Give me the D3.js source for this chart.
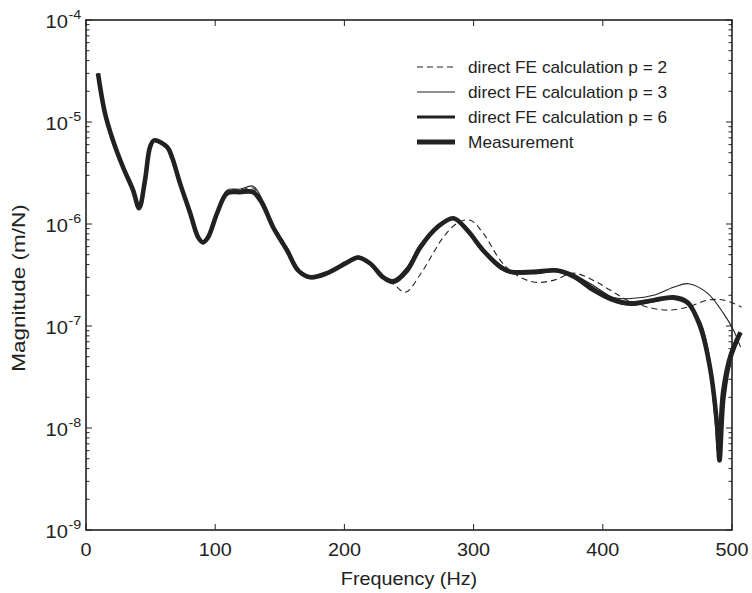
<!DOCTYPE html>
<html>
<head>
<meta charset="utf-8">
<script src="https://cdn.jsdelivr.net/npm/d3@7"></script>
<style>
  body { margin: 0; background: #fff; }
  text { font-family: "Liberation Sans", Arial, sans-serif; fill: #222; }
</style>
</head>
<body>
<svg id="chart" width="752" height="593"></svg>
<script>
// frequency (Hz) / magnitude (m/N)
let measFreq = [9.3,14.7,20.9,28.7,36.4,41.1,45.7,49.6,52.7,62.7,66.6,72.8,80.6,86.8,90.6,94.5,101.5,109.2,119.3,129.4,136.3,144.8,155.7,164.2,173.5,186.7,202.2,210.7,220,230,237.8,248.6,258.7,271.9,284.3,295.1,307.5,320.7,328.4,346.2,364.8,377.2,392.7,405.9,421.4,439.2,454.7,465.5,475.6,483.3,488.8,490.3,493.4,498.8,506.6];
let measMag  = [3.0e-5,1.22e-5,6.6e-6,3.6e-6,2.15e-6,1.43e-6,2.7e-6,5.7e-6,6.6e-6,5.7e-6,4.5e-6,2.5e-6,1.28e-6,7.4e-7,6.6e-7,7.4e-7,1.28e-6,2.0e-6,2.05e-6,2.05e-6,1.6e-6,9.3e-7,5.5e-7,3.5e-7,3.0e-7,3.3e-7,4.2e-7,4.7e-7,4.1e-7,3.0e-7,2.7e-7,3.5e-7,5.9e-7,9.3e-7,1.14e-6,8.7e-7,5.5e-7,3.8e-7,3.4e-7,3.4e-7,3.5e-7,3.1e-7,2.3e-7,1.87e-7,1.67e-7,1.79e-7,1.91e-7,1.71e-7,9.7e-8,3.7e-8,9.5e-9,4.8e-9,2.0e-8,4.9e-8,8.7e-8];

let p6Freq = [9.3,14.7,20.9,28.7,36.4,41.1,45.7,49.6,52.7,62.7,66.6,72.8,80.6,86.8,90.6,94.5,101.5,109.2,119.3,129.4,136.3,144.8,155.7,164.2,173.5,186.7,202.2,210.7,220,230,237.8,248.6,258.7,271.9,284.3,295.1,307.5,320.7,328.4,346.2,364.8,377.2,392.7,405.9,421.4,439.2,454.7,465.5,475.6,482.5,487.5,489.3,492.5,498.5,506];
let p6Mag  = [3.0e-5,1.22e-5,6.6e-6,3.6e-6,2.15e-6,1.45e-6,2.7e-6,5.7e-6,6.6e-6,5.7e-6,4.5e-6,2.5e-6,1.3e-6,7.5e-7,6.7e-7,7.5e-7,1.3e-6,2.05e-6,2.1e-6,2.1e-6,1.65e-6,9.5e-7,5.6e-7,3.55e-7,3.05e-7,3.3e-7,4.2e-7,4.75e-7,4.1e-7,3.05e-7,2.8e-7,3.65e-7,6.1e-7,9.5e-7,1.13e-6,8.6e-7,5.4e-7,3.7e-7,3.35e-7,3.3e-7,3.45e-7,3.0e-7,2.2e-7,1.8e-7,1.62e-7,1.75e-7,1.86e-7,1.66e-7,1.05e-7,4.5e-8,1.2e-8,6.0e-9,2.3e-8,5.3e-8,8.6e-8];

let p3Freq = [9.3,14.7,20.9,28.7,36.4,41.1,45.7,49.6,52.7,62.7,66.6,72.8,80.6,86.8,90.6,94.5,101.5,109.2,119.3,129.4,136.3,144.8,155.7,164.2,173.5,186.7,202.2,210.7,220,230,237.8,248.6,258.7,271.9,284.3,295.1,307.5,320.7,328.4,346.2,364.8,377.2,392.7,408.2,423.7,439.2,454.7,466.3,481,493.4,501.2,506.6];
let p3Mag  = [3.0e-5,1.22e-5,6.6e-6,3.6e-6,2.15e-6,1.45e-6,2.7e-6,5.7e-6,6.6e-6,5.7e-6,4.5e-6,2.5e-6,1.28e-6,7.5e-7,6.7e-7,7.5e-7,1.35e-6,2.15e-6,2.2e-6,2.35e-6,1.75e-6,9.8e-7,5.6e-7,3.6e-7,3.1e-7,3.4e-7,4.2e-7,4.8e-7,4.1e-7,3.0e-7,2.8e-7,3.8e-7,6.2e-7,9.6e-7,1.12e-6,8.9e-7,5.7e-7,4.0e-7,3.5e-7,3.4e-7,3.6e-7,3.2e-7,2.5e-7,1.9e-7,1.87e-7,2.0e-7,2.4e-7,2.6e-7,2.1e-7,1.33e-7,9.1e-8,6.2e-8];

let p2Freq = [9.3,14.7,20.9,28.7,36.4,41.1,45.7,49.6,52.7,62.7,66.6,72.8,80.6,86.8,90.6,94.5,101.5,109.2,119.3,129.4,136.3,144.8,155.7,164.2,173.5,186.7,202.2,210.7,220,230,237.8,247.1,258.7,268.8,276.5,287.4,297.4,307.5,320.7,330.8,346.2,361.7,377.2,392.7,405.9,419,434.6,450,465.5,481,493.4,507.4];
let p2Mag  = [3.0e-5,1.22e-5,6.6e-6,3.6e-6,2.15e-6,1.45e-6,2.7e-6,5.7e-6,6.6e-6,5.7e-6,4.5e-6,2.5e-6,1.28e-6,7.5e-7,6.7e-7,7.5e-7,1.33e-6,2.1e-6,2.15e-6,2.25e-6,1.72e-6,1.0e-6,5.8e-7,3.7e-7,3.1e-7,3.3e-7,4.1e-7,4.7e-7,4.0e-7,3.0e-7,2.6e-7,2.14e-7,3.2e-7,5.2e-7,7.4e-7,1.02e-6,1.09e-6,8.1e-7,4.4e-7,3.3e-7,2.7e-7,2.8e-7,3.3e-7,2.8e-7,2.24e-7,1.79e-7,1.53e-7,1.43e-7,1.53e-7,1.79e-7,1.8e-7,1.53e-7];

let xTicks = [0,100,200,300,400,500];
let yDecades = [-9,-8,-7,-6,-5,-4];
let legendLabels = ["direct FE calculation p = 2","direct FE calculation p = 3","direct FE calculation p = 6","Measurement"];

let svg = d3.select("#chart");
let pLeft = 86, pRight = 732, pTop = 20, pBottom = 530;
let ink = "#222";

let x = d3.scaleLinear().domain([0,500]).range([pLeft,pRight]);
let y = d3.scaleLog().domain([1e-9,1e-4]).range([pBottom,pTop]);

// text that is a bit wider than the font (the original was stretched)
function label(tx, ty, str, size, sx, anchor, rot) {
  return svg.append("text")
            .attr("transform","translate("+tx+","+ty+")"+(rot ? " rotate("+rot+")" : "")+" scale("+sx+",1)")
            .attr("text-anchor",anchor || "start")
            .style("font-size",size+"px")
            .text(str);
}

// box
svg.append("rect")
   .attr("x",pLeft).attr("y",pTop)
   .attr("width",pRight-pLeft).attr("height",pBottom-pTop)
   .attr("fill","none").attr("stroke",ink).attr("stroke-width",1.6);

// x ticks, inward on bottom and top
xTicks.forEach(function(t){
  svg.append("line").attr("x1",x(t)).attr("x2",x(t)).attr("y1",pBottom).attr("y2",pBottom-6).attr("stroke",ink).attr("stroke-width",1);
  svg.append("line").attr("x1",x(t)).attr("x2",x(t)).attr("y1",pTop).attr("y2",pTop+6).attr("stroke",ink).attr("stroke-width",1);
  label(x(t), 556, t, 18, 1.1, "middle");
});

// y ticks, major + minor, inward on left and right
yDecades.forEach(function(d){
  let v = Math.pow(10,d);
  [pLeft,pRight].forEach(function(ax){
    let dir = ax===pLeft ? 1 : -1;
    svg.append("line").attr("x1",ax).attr("x2",ax+dir*6).attr("y1",y(v)).attr("y2",y(v)).attr("stroke",ink).attr("stroke-width",1);
    if (d < -4) {
      for (let k=2;k<10;k++) {
        svg.append("line").attr("x1",ax).attr("x2",ax+dir*3.5).attr("y1",y(k*v)).attr("y2",y(k*v)).attr("stroke",ink).attr("stroke-width",1);
      }
    }
  });
  label(68, y(v)+8, "10", 18, 1.12, "end");
  label(68.5, y(v)-1, d, 13, 1.1);
});

// axis labels
label((pLeft+pRight)/2, 585, "Frequency (Hz)", 18, 1.1, "middle");
label(25, 288, "Magnitude (m/N)", 18, 1.25, "middle", -90);

// curves
let series = [
   {f:measFreq, m:measMag, w:4.6, dash:null}
  ,{f:p6Freq,   m:p6Mag,   w:2.8, dash:null}
  ,{f:p3Freq,   m:p3Mag,   w:1.1, dash:null}
  ,{f:p2Freq,   m:p2Mag,   w:1.1, dash:"6,4"}
];

let lineFunction = d3.line()
                     .x(function(d){return x(d[0])})
                     .y(function(d){return y(d[1])})
                     .curve(d3.curveCatmullRom.alpha(0.5));

series.forEach(function(s){
  let pts = s.f.map(function(f,i){return [f,s.m[i]]});
  svg.append("path")
     .attr("d",lineFunction(pts))
     .attr("fill","none")
     .attr("stroke",ink)
     .attr("stroke-width",s.w)
     .attr("stroke-linejoin","round")
     .attr("stroke-dasharray",s.dash);
});

// legend
let legendStyle = [{w:1.2,dash:"6,4"},{w:1.2,dash:null},{w:3.2,dash:null},{w:5,dash:null}];
legendLabels.forEach(function(l,i){
  let ly = 67 + i*25;
  svg.append("line").attr("x1",417).attr("x2",455).attr("y1",ly).attr("y2",ly)
     .attr("stroke",ink).attr("stroke-width",legendStyle[i].w).attr("stroke-dasharray",legendStyle[i].dash);
  label(468, ly+6, l, 16, 1.08);
});
</script>
</body>
</html>
